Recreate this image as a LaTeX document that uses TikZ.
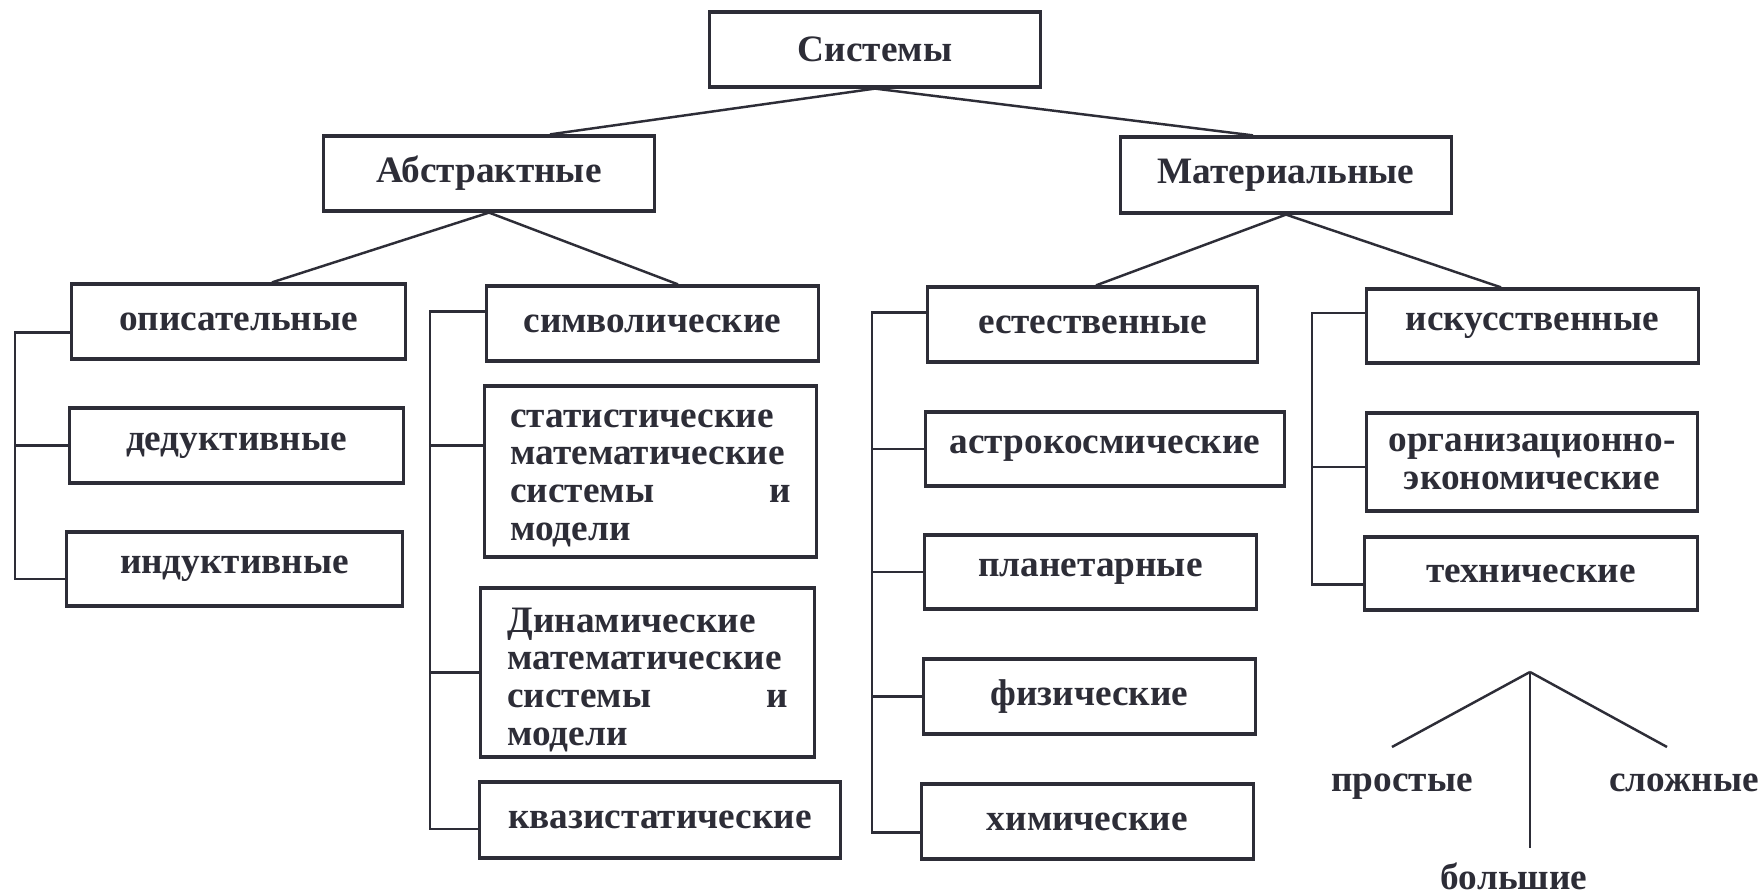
\documentclass[tikz,border=0pt]{standalone}
\usepackage{fontspec}
\setmainfont{Liberation Serif}
\usepackage{tikz}
\usetikzlibrary{positioning, calc}
\definecolor{ink}{RGB}{45,45,55}

\begin{document}
\begin{tikzpicture}[x=0.01cm, y=-0.01cm,
    box/.style={draw=ink, line width=0.9pt, inner sep=0pt, minimum width=3.31cm,
      minimum height=0.75cm, text=ink, font=\fontsize{10.6}{10.7}\selectfont\bfseries},
    wbox/.style={box, text width=2.80cm, align=left},
    lbl/.style={text=ink, inner sep=0pt, anchor=base, font=\fontsize{10.6}{10.7}\selectfont\bfseries},
    link/.style={draw=ink, line width=0.7pt}]
  \fill[white] (0,0) rectangle (1762,895);
  \useasboundingbox (0,0) rectangle (1762,895);
  % Top levels
  \node[box] (sys) at (875,49.5) {Системы};
  \node[box] (abstr) at (489,173.5) {Абстрактные};
  \node[box, minimum height=0.76cm] (mater) at (1286,175) {Материальные};
  \draw[link] (sys.south) -- ($(abstr.north)+(61,0)$);
  \draw[link] (sys.south) -- ($(mater.north)+(-33,0)$);
  % Abstract: left column
  \node[box, minimum width=3.33cm] (opis) at (238.5,321.5) {описательные};
  \node[box, minimum width=3.33cm] (deduct) at (236.5,445.5) {дедуктивные};
  \node[box, minimum width=3.35cm, minimum height=0.74cm] (induct) at (234.5,569) {индуктивные};
  % Abstract: right column
  \node[box] (symb) at (652.5,323.5) {символические};
  \node[wbox, minimum height=1.71cm] (stat) at (650.5,471.5)
    {\rule{0pt}{0.31cm}статистические\\ математические\\ системы\hfill и\\ модели};
  \node[wbox, minimum width=3.33cm, minimum height=1.69cm] (dyn) at (647.5,672.5)
    {\rule{0pt}{0.39cm}Динамические\\ математические\\ системы\hfill и\\ модели};
  \node[box, minimum width=3.60cm, minimum height=0.76cm] (quasi) at (660,820) {квазистатические};
  \draw[link] (abstr.south) -- ($(opis.north)+(33.5,0)$);
  \draw[link] (abstr.south) -- ($(symb.north)+(25.5,0)$);
  % Material: left column
  \node[box, minimum width=3.29cm] (natur) at (1092.5,324.5) {естественные};
  \node[box, minimum width=3.58cm, minimum height=0.74cm] (astro) at (1105,449) {астрокосмические};
  \node[box, minimum height=0.74cm] (planet) at (1090.5,572) {планетарные};
  \node[box] (phys) at (1089.5,696.5) {физические};
  \node[box] (chem) at (1087.5,821.5) {химические};
  % Material: right column
  \node[box, minimum height=0.74cm] (artif) at (1532.5,326) {искусственные};
  \node[box, minimum width=3.30cm, minimum height=0.98cm, align=center] (orgec) at (1532,462)
    {организационно-\\экономические};
  \node[box, minimum width=3.32cm, minimum height=0.73cm] (techn) at (1531,573.5) {технические};
  \draw[link] (mater.south) -- ($(natur.north)+(3.5,0)$);
  \draw[link] (mater.south) -- ($(artif.north)+(-31.5,0)$);
  % Brackets
  \coordinate (spA) at (15,0);
  \coordinate (spB) at (430,0);
  \coordinate (spC) at (872,0);
  \coordinate (spD) at (1312,0);
  \draw[link] ($(opis.west)+(0,11)$) -| ($(induct.west -| spA)+(0,10)$) -- ($(induct.west)+(0,10)$);
  \draw[link] (deduct.west) -- (deduct.west -| spA);
  \draw[link] ($(symb.west)+(0,-12)$) -| ($(quasi.west -| spB)+(0,9)$) -- ($(quasi.west)+(0,9)$);
  \draw[link] ($(stat.west)+(0,-26)$) -- ($(stat.west -| spB)+(0,-26)$);
  \draw[link] (dyn.west) -- (dyn.west -| spB);
  \draw[link] ($(natur.west)+(0,-12)$) -| ($(chem.west -| spC)+(0,11)$) -- ($(chem.west)+(0,11)$);
  \draw[link] (astro.west) -- (astro.west -| spC);
  \draw[link] (planet.west) -- (planet.west -| spC);
  \draw[link] (phys.west) -- (phys.west -| spC);
  \draw[link] ($(artif.west)+(0,-13)$) -| ($(techn.west -| spD)+(0,11)$) -- ($(techn.west)+(0,11)$);
  \draw[link] ($(orgec.west)+(0,5)$) -- ($(orgec.west -| spD)+(0,5)$);
  % Size fork
  \coordinate (fork) at (1530,672);
  \coordinate (forkL) at (1392,747);
  \coordinate (forkR) at (1667,747);
  \coordinate (forkB) at (1530,848);
  \draw[link] (fork) -- (forkL);
  \draw[link] (fork) -- (forkR);
  \draw[link] (fork) -- (forkB);
  \node[lbl] (simple) at (1402,792) {простые};
  \node[lbl] (complex) at (1684,792) {сложные};
  \node[lbl] (big) at (1514,890) {большие};
\end{tikzpicture}
\end{document}
